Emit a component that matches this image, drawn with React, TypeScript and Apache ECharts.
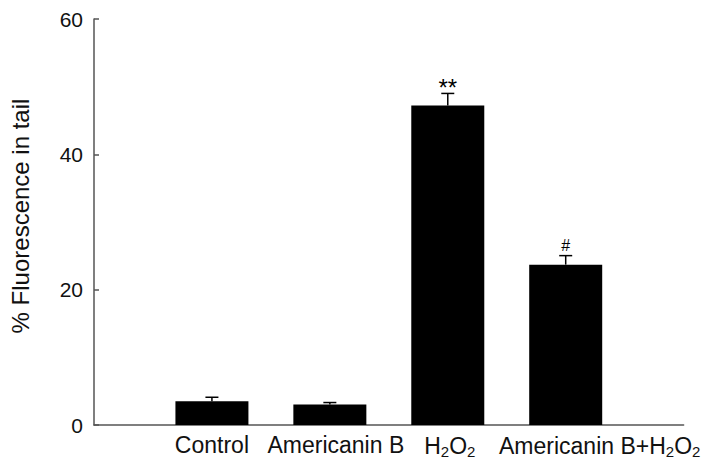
import React, { useEffect, useRef } from "react";
import * as echarts from "echarts";

const categories = ["", "Control", "Americanin B", "H2O2", "Americanin B+H2O2", ""];
const labelShift = [0, 0, 6, 2, 34, 0];
const means = [3.5, 3.02, 47.2, 23.7];
const errors = [0.6, 0.3, 1.8, 1.33];
const marks = ["", "", "**", "#"];
const yTicks = [0, 20, 40, 60];

const FONT = "'Liberation Sans', Arial, sans-serif";

export default function App() {
  const ref = useRef<HTMLDivElement>(null);
  useEffect(() => {
    if (!ref.current) return;
    const chart = echarts.init(ref.current, null, { renderer: "svg" });
    const barData: any[] = ["-", ...means, "-"];
    const errData = means.map((m, i) => [i + 1, m, errors[i], marks[i]]);
    chart.setOption({
      animation: false,
      backgroundColor: "#ffffff",
      textStyle: { fontFamily: FONT },
      grid: { left: 87, right: 17, top: 19, bottom: 43, containLabel: false },
      xAxis: {
        type: "category",
        data: categories,
        boundaryGap: false,
        axisLine: { lineStyle: { color: "#555", width: 1.5 } },
        axisTick: { show: false },
        splitLine: { show: false },
        axisLabel: {
          interval: 0,
          margin: 8,
          color: "#111",
          fontSize: 23,
          fontFamily: FONT,
          formatter: (v: string, idx: number) => {
            if (!v) return "";
            const s = labelShift[idx] || 0;
            const body = v.replace(/2/g, "{sub|2}");
            return s ? `{pad${s}|}` + body : body;
          },
          rich: {
            sub: { fontSize: 15, padding: [11, 0, 0, 0], color: "#111", fontFamily: FONT },
            pad6: { width: 12 },
            pad2: { width: 4 },
            pad34: { width: 68 },
          },
        },
      },
      yAxis: {
        type: "value",
        min: yTicks[0],
        max: yTicks[yTicks.length - 1],
        interval: 20,
        name: "% Fluorescence in tail",
        nameLocation: "middle",
        nameGap: 62,
        nameRotate: 90,
        nameTextStyle: { fontSize: 24, color: "#111", fontFamily: FONT, padding: [0, 0, 0, 12] },
        axisLine: { show: true, lineStyle: { color: "#555", width: 1.5 } },
        axisTick: { show: true, inside: true, length: 5, lineStyle: { color: "#555", width: 1.5 } },
        splitLine: { show: false },
        axisLabel: { color: "#111", fontSize: 21, margin: 11, fontFamily: FONT },
      },
      series: [
        {
          type: "bar",
          data: barData,
          barWidth: 73,
          itemStyle: { color: "#000" },
        },
        {
          type: "custom",
          data: errData,
          z: 5,
          renderItem: (params: any, api: any) => {
            const x = api.value(0);
            const m = api.value(1);
            const e = api.value(2);
            const mark = marks[params.dataIndex];
            const base = api.coord([x, m]);
            const top = api.coord([x, m + e]);
            const hw = 6.5;
            const children: any[] = [
              {
                type: "line",
                shape: { x1: base[0], y1: base[1], x2: top[0], y2: top[1] },
                style: { stroke: "#000", lineWidth: 1.5 },
              },
              {
                type: "line",
                shape: { x1: top[0] - hw, y1: top[1], x2: top[0] + hw, y2: top[1] },
                style: { stroke: "#000", lineWidth: 1.5 },
              },
            ];
            if (mark) {
              const star = mark === "**";
              children.push({
                type: "text",
                x: top[0],
                y: top[1] - (star ? 6 : 10),
                style: {
                  text: mark,
                  fill: "#000",
                  fontSize: star ? 24 : 16,
                  fontFamily: FONT,
                  align: "center",
                  verticalAlign: "middle",
                },
              });
            }
            return { type: "group", children };
          },
        },
      ],
    });
    return () => chart.dispose();
  }, []);
  return (
    <div
      ref={ref}
      style={{ position: "fixed", left: 0, top: 0, width: 702, height: 468 }}
    />
  );
}
